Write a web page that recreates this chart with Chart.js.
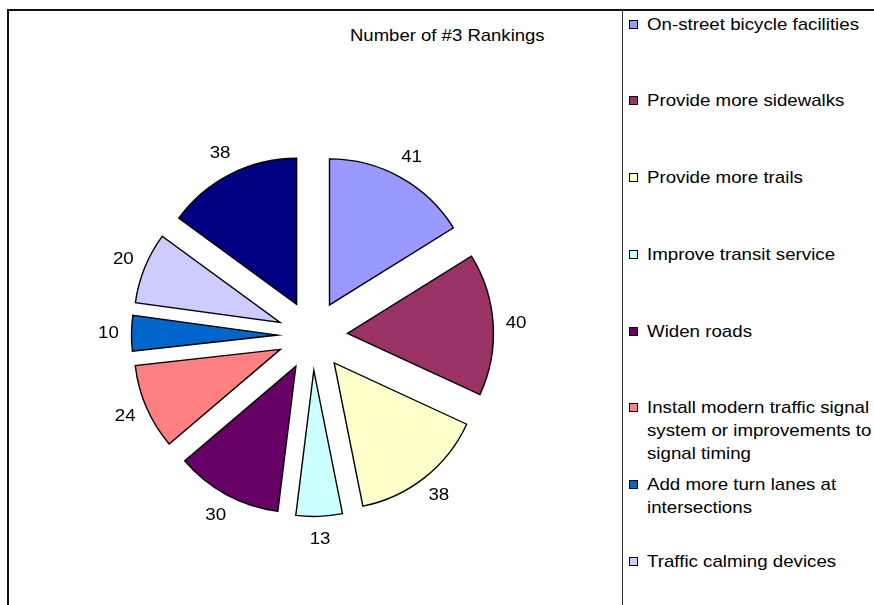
<!DOCTYPE html>
<html>
<head>
<meta charset="utf-8">
<script src="https://cdn.jsdelivr.net/npm/chart.js"></script>
<style>
  html, body { margin: 0; padding: 0; background: #fff; }
  body { width: 874px; height: 605px; position: relative; overflow: hidden;
         font-family: "Liberation Sans", Arial, sans-serif; color: #000; }
  .frame-top { position: absolute; left: 7px; top: 9px; width: 867px; height: 2px; background: #111; }
  .frame-left { position: absolute; left: 7px; top: 9px; width: 2px; height: 596px; background: #111; }
  .frame-sep { position: absolute; left: 622px; top: 10px; width: 1px; height: 595px; background: #333; }
  #wrap { position: absolute; left: 8px; top: 10px; width: 614px; height: 595px; }
  #title { position: absolute; left: 0; top: 26px; width: 894px; text-align: center;
           font-size: 17px; line-height: 20px; white-space: nowrap; }
  #title span { display: inline-block; transform: scaleX(1.09); }
  .item { position: absolute; left: 629px; }
  .marker { position: absolute; left: 0; top: 7px; width: 7px; height: 7px; border: 1px solid #000; }
  .txt { position: absolute; left: 18px; top: 0; width: 215px; font-size: 17px; line-height: 23px;
         transform: scaleX(1.1); transform-origin: 0 0; white-space: normal; }
</style>
</head>
<body>
<div class="frame-top"></div>
<div class="frame-left"></div>
<div class="frame-sep"></div>
<div id="title"><span>Number of #3 Rankings</span></div>
<div id="wrap"><canvas id="c"></canvas></div>
<div id="legend"></div>
<script>
// ---- data ----
const chartTitle = 'Number of #3 Rankings';
const categories = [
  'On-street bicycle facilities',
  'Provide more sidewalks',
  'Provide more trails',
  'Improve transit service',
  'Widen roads',
  'Install modern traffic signal system or improvements to signal timing',
  'Add more turn lanes at intersections',
  'Traffic calming devices',
  'Other'
];
const rankingCounts = [41, 40, 38, 13, 30, 24, 10, 20, 38];
const sliceColors = ['#9999FF', '#993366', '#FFFFCC', '#CCFFFF', '#660066', '#FF8080', '#0066CC', '#CCCCFF', '#000080'];

// ---- exploded pie: arcs translated uniformly along their bisector ----
class ExplodedArc extends Chart.ArcElement {
  draw(ctx) {
    const saved = this.options;
    const d = saved.offset || 0;
    const mid = (this.startAngle + this.endAngle) / 2;
    ctx.save();
    ctx.translate(Math.cos(mid) * d, Math.sin(mid) * d);
    this.options = Object.assign({}, saved, { offset: 0 });
    super.draw(ctx);
    this.options = saved;
    ctx.restore();
  }
}
ExplodedArc.id = 'explodedArc';

class ExplodedPie extends Chart.PieController {}
ExplodedPie.id = 'explodedPie';
ExplodedPie.defaults = { dataElementType: 'explodedArc' };
ExplodedPie.overrides = Chart.PieController.overrides;

Chart.register(ExplodedArc, ExplodedPie);

const valueLabels = {
  id: 'valueLabels',
  afterDatasetsDraw(chart) {
    const meta = chart.getDatasetMeta(0);
    const values = chart.data.datasets[0].data;
    const ctx = chart.ctx;
    ctx.save();
    ctx.font = '17px "Liberation Sans", Arial, sans-serif';
    ctx.fillStyle = '#000';
    ctx.textAlign = 'center';
    ctx.textBaseline = 'middle';
    meta.data.forEach((arc, i) => {
      const mid = (arc.startAngle + arc.endAngle) / 2;
      const r = (arc.options.offset || 0) + arc.outerRadius + 23;
      ctx.save();
      ctx.translate(arc.x + Math.cos(mid) * r, arc.y + Math.sin(mid) * r);
      ctx.scale(1.1, 1);
      ctx.fillText(String(values[i]), 0, 0);
      ctx.restore();
    });
    ctx.restore();
  }
};

new Chart(document.getElementById('c'), {
  type: 'explodedPie',
  data: {
    labels: categories,
    datasets: [{
      data: rankingCounts,
      backgroundColor: sliceColors,
      borderColor: '#000',
      borderWidth: 1.4,
      borderJoinStyle: 'miter',
      offset: 35
    }]
  },
  options: {
    responsive: true,
    maintainAspectRatio: false,
    animation: false,
    radius: 146,
    layout: { padding: { left: 0, right: 5, top: 56, bottom: 0 } },
    plugins: {
      legend: { display: false },
      title: { display: false },
      tooltip: { enabled: false }
    }
  },
  plugins: [valueLabels]
});

// ---- HTML legend built from the data ----
const legend = document.getElementById('legend');
categories.forEach((label, i) => {
  const item = document.createElement('div');
  item.className = 'item';
  item.style.top = (12.5 + i * 76.75) + 'px';
  const m = document.createElement('div');
  m.className = 'marker';
  m.style.background = sliceColors[i];
  const t = document.createElement('div');
  t.className = 'txt';
  t.textContent = label;
  item.appendChild(m);
  item.appendChild(t);
  legend.appendChild(item);
});
</script>
</body>
</html>
